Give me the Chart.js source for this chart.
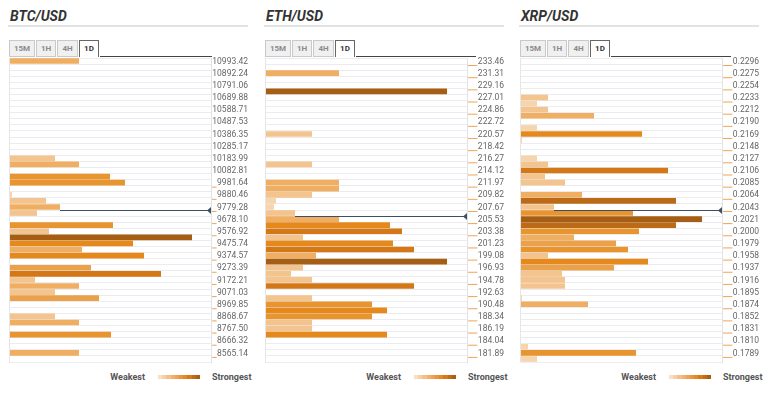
<!DOCTYPE html>
<html>
<head>
<meta charset="utf-8">
<script src="https://cdn.jsdelivr.net/npm/chart.js@4.4.1/dist/chart.umd.min.js"></script>
<style>
  body { margin: 0; background: #fff; font-family: Roboto, "Noto Sans", sans-serif; }
  #wrap { position: relative; width: 770px; height: 397px; overflow: hidden; }
  .panel { position: absolute; top: 0; width: 255px; height: 397px; }
  .title { position: absolute; left: 10px; top: 8px; font-size: 14px; font-weight: bold; font-style: italic; color: #333; }
  .rule { position: absolute; left: 8px; top: 25px; width: 240px; height: 2px; background: #e2e2e2; }
  .tabs { position: absolute; left: 9px; top: 40px; display: flex; }
  .tab { box-sizing: border-box; height: 17px; line-height: 16px; margin-right: 1px; border: 1px solid #c9c9c9; background: #f0f0f0;
         color: #8a8a8a; font-size: 8px; font-weight: bold; text-align: center; }
  .tab.on { background: #fff; border-color: #666; border-bottom: none; color: #333; }
  .tabline { position: absolute; left: 100px; top: 56px; height: 1px; background: #444; }
  canvas { position: absolute; top: 50px; left: 0; }
  .legend { position: absolute; top: 372px; left: 100px; width: 150px; height: 12px; font-size: 9px; font-weight: bold; color: #555; }
  .legend .w { position: absolute; right: 105px; top: 0; }
  .legend .s { position: absolute; left: 112px; top: 0; }
  .legend .g { position: absolute; left: 58px; top: 3px; width: 42px; height: 4px;
    background: linear-gradient(to right,
      #f9e0c2 0 10%, #f6d0a4 10% 20%, #f3c08a 20% 30%, #f0b06e 30% 40%, #eda257 40% 50%,
      #e99440 50% 60%, #e5881f 60% 70%, #d67a16 70% 80%, #c06c14 80% 90%, #a85f12 90% 100%); }
</style>
</head>
<body>
<div id="wrap">
  <div class="panel" style="left:0px">
    <div class="title">BTC/USD</div><div class="rule"></div>
    <div class="tabs"><div class="tab" style="width:26px">15M</div><div class="tab" style="width:20px">1H</div><div class="tab" style="width:21px">4H</div><div class="tab on" style="width:20px">1D</div></div>
    <div class="tabline" style="width:112px"></div>
    <canvas id="btc" width="250" height="316"></canvas>
    <div class="legend"><span class="w">Weakest</span><span class="g"></span><span class="s">Strongest</span></div>
  </div>
  <div class="panel" style="left:256px">
    <div class="title">ETH/USD</div><div class="rule"></div>
    <div class="tabs"><div class="tab" style="width:26px">15M</div><div class="tab" style="width:20px">1H</div><div class="tab" style="width:21px">4H</div><div class="tab on" style="width:20px">1D</div></div>
    <div class="tabline" style="width:120px"></div>
    <canvas id="eth" width="250" height="316"></canvas>
    <div class="legend"><span class="w">Weakest</span><span class="g"></span><span class="s">Strongest</span></div>
  </div>
  <div class="panel" style="left:511px">
    <div class="title">XRP/USD</div><div class="rule"></div>
    <div class="tabs"><div class="tab" style="width:26px">15M</div><div class="tab" style="width:20px">1H</div><div class="tab" style="width:21px">4H</div><div class="tab on" style="width:20px">1D</div></div>
    <div class="tabline" style="width:120px"></div>
    <canvas id="xrp" width="250" height="316"></canvas>
    <div class="legend"><span class="w">Weakest</span><span class="g"></span><span class="s">Strongest</span></div>
  </div>
</div>
<script>
// price levels, one label every second row
var btcLevels = ["10993.42","10892.24","10791.06","10689.88","10588.71","10487.53","10386.35","10285.17","10183.99","10082.81",
  "9981.64","9880.46","9779.28","9678.10","9576.92","9475.74","9374.57","9273.39","9172.21","9071.03",
  "8969.85","8868.67","8767.50","8666.32","8565.14"];
var ethLevels = ["233.46","231.31","229.16","227.01","224.86","222.72","220.57","218.42","216.27","214.12",
  "211.97","209.82","207.67","205.53","203.38","201.23","199.08","196.93","194.78","192.63",
  "190.48","188.34","186.19","184.04","181.89"];
var xrpLevels = ["0.2296","0.2275","0.2254","0.2233","0.2212","0.2190","0.2169","0.2148","0.2127","0.2106",
  "0.2085","0.2064","0.2043","0.2021","0.2000","0.1979","0.1958","0.1937","0.1916","0.1895",
  "0.1874","0.1852","0.1831","0.1810","0.1789"];

// confluence strength per row (50 rows, top to bottom)
var btcStrength = [70,0,0,0,0,0,0,0,0,0, 0,0,0,0,0,0,46,70,0,101, 116,0,3,37,51,28,0,104,40,183,
  124,73,135,0,82,152,26,70,46,90, 0,0,46,70,0,102,0,0,70,0];
var ethStrength = [0,0,74,0,0,182,0,0,0,0, 0,0,47,0,0,0,0,47,0,0, 74,74,47,11,9,30,74,125,137,38,
  128,149,51,182,38,26,47,149,0,47, 107,122,107,47,47,122,0,0,0,0];
var xrpStrength = [0,0,0,0,0,0,28,17,28,74, 0,17,122,2,0,0,17,28,148,25, 45,0,62,156,34,113,182,156,119,54,
  96,108,28,128,94,42,45,45,0,2, 68,0,0,0,0,0,0,8,116,17];

// row the current price sits under
var btcPriceRow = 24;
var ethPriceRow = 25;
var xrpPriceRow = 24;

function strengthColor(v) {
  if (v < 20) return '#f6d5ae';
  if (v < 48) return '#f3c48e';
  if (v < 80) return '#efae62';
  if (v < 100) return '#eba04a';
  if (v < 120) return '#e8942f';
  if (v < 136) return '#e5891d';
  if (v < 154) return '#d47817';
  if (v < 170) return '#bb6a17';
  return '#a65e14';
}

var panelPlugin = {
  id: 'panelPlugin',
  afterDraw: function(chart) {
    var ctx = chart.ctx, a = chart.chartArea;
    var xs = chart.scales.x, ys = chart.scales.y;
    ctx.save();
    // left border
    ctx.strokeStyle = '#e6e6e6';
    ctx.lineWidth = 1;
    ctx.beginPath();
    ctx.moveTo(a.left + 0.5, a.top);
    ctx.lineTo(a.left + 0.5, a.bottom);
    ctx.stroke();
    // labels with small dash in front
    ctx.font = '8.5px Roboto';
    ctx.textAlign = 'right';
    ctx.textBaseline = 'middle';
    var labels = chart.data.labels;
    var labelRight = a.right + 37;
    labels.forEach(function(lab, i) {
      if (!lab) return;
      var y = ys.getPixelForValue(i);
      var w = ctx.measureText(lab).width;
      ctx.strokeStyle = '#eea554';
      ctx.beginPath();
      ctx.moveTo(a.right + 1, y + 4.5);
      ctx.lineTo(labelRight - w - 0.5, y + 4.5);
      ctx.stroke();
      ctx.fillStyle = '#666';
      ctx.fillText(lab, labelRight, y + 0.5);
    });
    // current price line
    var row = chart.options.priceRow;
    var vals = chart.data.datasets[0].data;
    var half = (ys.getPixelForValue(1) - ys.getPixelForValue(0)) / 2;
    var py = Math.round(ys.getPixelForValue(row) + half) + 0.5;
    var px = xs.getPixelForValue(vals[row]);
    ctx.strokeStyle = '#3d4f66';
    ctx.lineWidth = 1.2;
    ctx.beginPath();
    ctx.moveTo(px, py);
    ctx.lineTo(a.right, py);
    ctx.stroke();
    ctx.fillStyle = '#3d4f66';
    ctx.beginPath();
    ctx.moveTo(a.right - 4, py);
    ctx.lineTo(a.right, py - 3.5);
    ctx.lineTo(a.right, py + 3.5);
    ctx.closePath();
    ctx.fill();
    ctx.restore();
  }
};

function makeChart(id, values, levels, priceRow) {
  var rows = values.map(function(v, i) { return i % 2 === 0 ? levels[i / 2] : ''; });
  return new Chart(document.getElementById(id), {
    type: 'bar',
    data: {
      labels: rows,
      datasets: [{
        data: values,
        backgroundColor: values.map(strengthColor),
        borderWidth: 0,
        barPercentage: 1,
        categoryPercentage: 0.93
      }]
    },
    options: {
      priceRow: priceRow,
      indexAxis: 'y',
      responsive: false,
      animation: false,
      layout: { padding: { left: 9, right: 2, top: 8, bottom: 4 } },
      plugins: { legend: { display: false }, tooltip: { enabled: false } },
      scales: {
        x: { display: false, min: 0, max: 202 },
        y: {
          position: 'right',
          grid: { color: '#ececf0', offset: true, drawTicks: false },
          border: { display: true, color: '#e3e3e3' },
          ticks: { display: false, autoSkip: false },
          afterFit: function(s) { s.width = 37; }
        }
      }
    },
    plugins: [panelPlugin]
  });
}

makeChart('btc', btcStrength, btcLevels, btcPriceRow);
makeChart('eth', ethStrength, ethLevels, ethPriceRow);
makeChart('xrp', xrpStrength, xrpLevels, xrpPriceRow);
</script>
</body>
</html>
